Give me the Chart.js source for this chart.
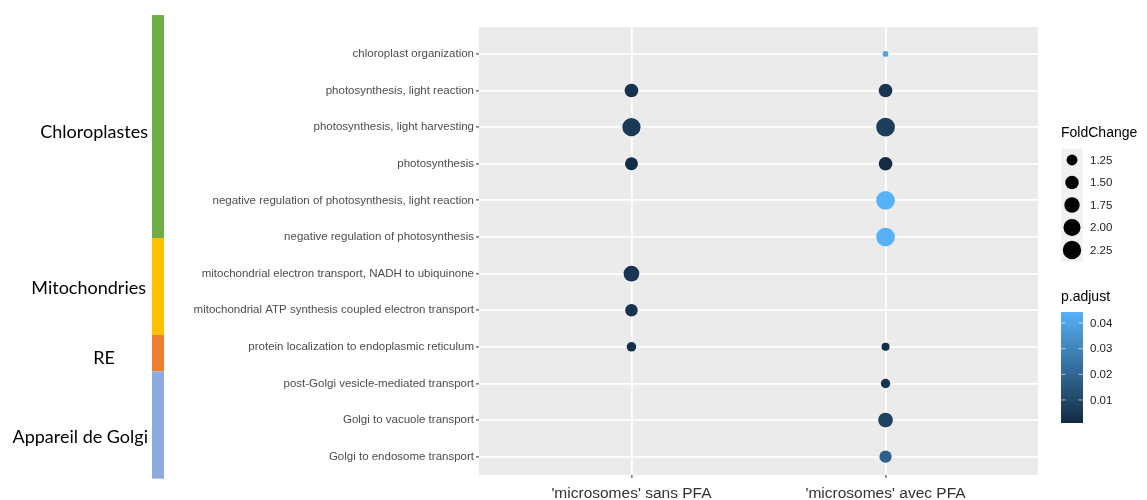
<!DOCTYPE html>
<html>
<head>
<meta charset="utf-8">
<script src="https://cdn.jsdelivr.net/npm/chart.js@4"></script>
<style>
  html, body { margin: 0; padding: 0; background: #ffffff; }
  #wrap { position: relative; width: 1147px; height: 500px; }
</style>
</head>
<body>
<div id="wrap"><canvas id="c" width="1147" height="500"></canvas></div>
<script>
// ---------------- DATA ----------------
const categories = [
  "chloroplast organization",
  "photosynthesis, light reaction",
  "photosynthesis, light harvesting",
  "photosynthesis",
  "negative regulation of photosynthesis, light reaction",
  "negative regulation of photosynthesis",
  "mitochondrial electron transport, NADH to ubiquinone",
  "mitochondrial ATP synthesis coupled electron transport",
  "protein localization to endoplasmic reticulum",
  "post-Golgi vesicle-mediated transport",
  "Golgi to vacuole transport",
  "Golgi to endosome transport"
];
const conditions = ["'microsomes' sans PFA", "'microsomes' avec PFA"];

const foldChangeSans = [null, 1.52, 2.22, 1.44, null, null, 1.79, 1.39, 1.16, null, null, null];
const foldChangeAvec = [1.05, 1.52, 2.30, 1.52, 2.28, 2.29, null, null, 1.09, 1.15, 1.65, 1.37];
const pAdjustSans    = [null, 0.003, 0.006, 0.002, null, null, 0.005, 0.004, 0.003, null, null, null];
const pAdjustAvec    = [0.040, 0.004, 0.007, 0.001, 0.0443, 0.0443, null, null, 0.002, 0.004, 0.008, 0.018];

const sizeLegendValues  = [1.25, 1.50, 1.75, 2.00, 2.25];
const sizeLegendLabels  = ["1.25", "1.50", "1.75", "2.00", "2.25"];
const colorLegendValues = [0.01, 0.02, 0.03, 0.04];
const colorLegendLabels = ["0.01", "0.02", "0.03", "0.04"];

const groupNames  = ["Chloroplastes", "Mitochondries", "RE", "Appareil de Golgi"];
const groupColors = ["#70AD47", "#FFC000", "#ED7D31", "#8FAADC"];
// boundaries of the coloured strips, in row units of the y scale
const groupBounds = [-1.06, 5.03, 7.67, 8.67, 11.60];
const groupLabelRows = [2.15, 6.41, 8.30, 10.48];

// ---------------- SCALES FOR AESTHETICS ----------------
const FC_MIN = 1.05, FC_MAX = 2.30;
const P_MIN = 0.001, P_MAX = 0.0443;
const LOW = [19, 43, 67], HIGH = [86, 177, 247];

function diameterFor(fc) {
  const t = Math.max(0, Math.min(1, (fc - FC_MIN) / (FC_MAX - FC_MIN)));
  return 5.7 + 13 * Math.sqrt(t);
}
function colorFor(p) {
  const t = Math.max(0, Math.min(1, (p - P_MIN) / (P_MAX - P_MIN)));
  const c = LOW.map((l, i) => Math.round(l + (HIGH[i] - l) * t));
  return `rgb(${c[0]},${c[1]},${c[2]})`;
}

const fcByCondition = [foldChangeSans, foldChangeAvec];
const pByCondition  = [pAdjustSans, pAdjustAvec];
const points = [];
fcByCondition.forEach((fcArr, ci) => {
  fcArr.forEach((fc, ri) => {
    if (fc === null) return;
    points.push({ x: ci + 1, y: ri, r: diameterFor(fc) / 2, p: pByCondition[ci][ri] });
  });
});

// ---------------- PLUGINS ----------------
const panelBg = {
  id: 'panelBg',
  beforeDraw(chart) {
    const { ctx, chartArea: a } = chart;
    ctx.save();
    ctx.fillStyle = '#EBEBEB';
    ctx.fillRect(a.left, a.top, a.right - a.left, a.bottom - a.top);
    ctx.restore();
  }
};

const overlay = {
  id: 'overlay',
  afterDraw(chart) {
    const { ctx } = chart;
    const ys = chart.scales.y;
    ctx.save();
    // group strips
    for (let i = 0; i < groupNames.length; i++) {
      const y0 = ys.getPixelForValue(groupBounds[i]);
      const y1 = ys.getPixelForValue(groupBounds[i + 1]);
      ctx.fillStyle = groupColors[i];
      ctx.fillRect(152, y0, 12, y1 - y0);
    }
    ctx.fillStyle = '#000';
    ctx.font = '18px Lato';
    ctx.textBaseline = 'middle';
    const labelRight = [148, 146, 115, 148];
    for (let i = 0; i < groupNames.length; i++) {
      ctx.textAlign = 'right';
      ctx.fillText(groupNames[i], labelRight[i], ys.getPixelForValue(groupLabelRows[i]));
    }

    // size legend
    const lx = 1061, kw = 22, kh = 22.5, firstC = 160;
    ctx.textAlign = 'left';
    ctx.font = '14px "Liberation Sans", Arial';
    ctx.fillStyle = '#000';
    ctx.fillText('FoldChange', lx, 133);
    ctx.fillStyle = '#F2F2F2';
    ctx.fillRect(lx, firstC - kh / 2, kw, kh * sizeLegendValues.length);
    ctx.font = '11.5px "Liberation Sans", Arial';
    sizeLegendValues.forEach((v, i) => {
      const cy = firstC + i * kh;
      ctx.fillStyle = '#000';
      ctx.beginPath();
      ctx.arc(lx + kw / 2, cy, diameterFor(v) / 2, 0, Math.PI * 2);
      ctx.fill();
      ctx.fillStyle = '#222';
      ctx.fillText(sizeLegendLabels[i], 1090, cy + 0.5);
    });

    // colour bar legend
    ctx.font = '14px "Liberation Sans", Arial';
    ctx.fillStyle = '#000';
    ctx.fillText('p.adjust', lx, 297);
    const bTop = 312, bBot = 423;
    const g = ctx.createLinearGradient(0, bBot, 0, bTop);
    const steps = 10;
    for (let s = 0; s <= steps; s++) {
      g.addColorStop(s / steps, colorFor(P_MIN + (P_MAX - P_MIN) * s / steps));
    }
    ctx.fillStyle = g;
    ctx.fillRect(lx, bTop, kw, bBot - bTop);
    ctx.font = '11.5px "Liberation Sans", Arial';
    colorLegendValues.forEach((v, i) => {
      const y = bBot - (v - P_MIN) / (P_MAX - P_MIN) * (bBot - bTop);
      ctx.strokeStyle = 'rgba(255,255,255,0.6)';
      ctx.lineWidth = 1;
      ctx.beginPath();
      ctx.moveTo(lx, y); ctx.lineTo(lx + 4.5, y);
      ctx.moveTo(lx + kw - 4.5, y); ctx.lineTo(lx + kw, y);
      ctx.stroke();
      ctx.fillStyle = '#222';
      ctx.fillText(colorLegendLabels[i], 1090, y + 0.5);
    });
    ctx.restore();
  }
};

// ---------------- CHART ----------------
new Chart(document.getElementById('c'), {
  type: 'bubble',
  data: {
    datasets: [{
      data: points,
      backgroundColor: ctx => colorFor(ctx.raw ? ctx.raw.p : 0),
      borderWidth: 0,
      hoverBorderWidth: 0,
      clip: false
    }]
  },
  options: {
    responsive: false,
    animation: false,
    events: [],
    layout: { padding: { left: 0, right: 109, top: 27, bottom: 0 } },
    plugins: { legend: { display: false }, tooltip: { enabled: false } },
    scales: {
      x: {
        type: 'linear',
        min: 0.4, max: 2.6,
        afterBuildTicks: s => { s.ticks = conditions.map((c, i) => ({ value: i + 1 })); },
        afterFit: s => { s.height = 25; },
        ticks: {
          callback: v => conditions[v - 1],
          font: { family: '"Liberation Sans", Arial', size: 15.5 },
          color: '#333',
          padding: 6,
          maxRotation: 0,
          autoSkip: false
        },
        grid: { color: '#FFFFFF', lineWidth: 1.8, tickColor: '#333', tickLength: 3, tickWidth: 1 },
        border: { display: false }
      },
      y: {
        type: 'linear',
        reverse: true,
        min: -0.734, max: 11.50,
        afterBuildTicks: s => { s.ticks = categories.map((c, i) => ({ value: i })); },
        afterFit: s => { s.width = 479; },
        ticks: {
          callback: v => categories[v],
          font: { family: '"Liberation Sans", Arial', size: 11.5 },
          color: '#4D4D4D',
          padding: 2,
          autoSkip: false
        },
        grid: { color: '#FFFFFF', lineWidth: 1.8, tickColor: '#333', tickLength: 3, tickWidth: 1 },
        border: { display: false }
      }
    }
  },
  plugins: [panelBg, overlay]
});
</script>
</body>
</html>
